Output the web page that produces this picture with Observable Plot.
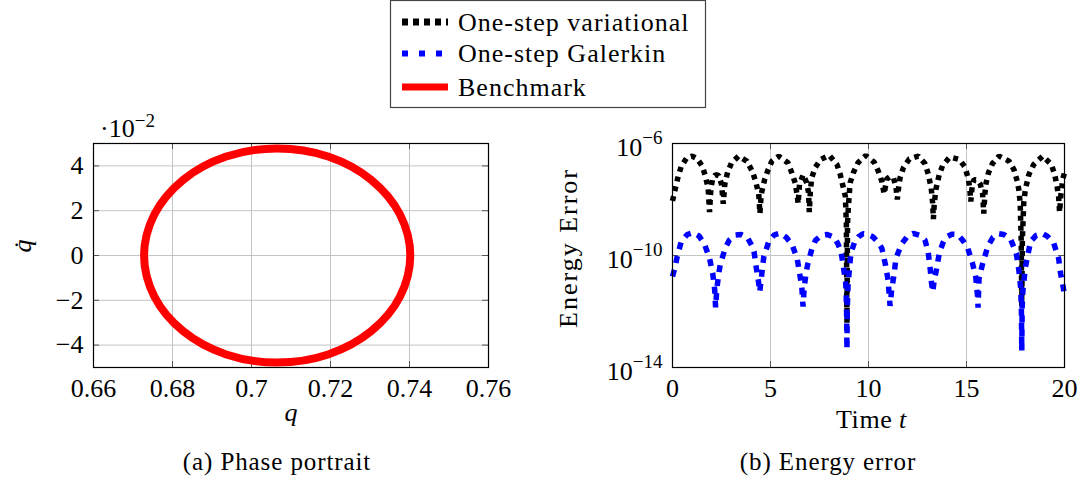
<!DOCTYPE html>
<html><head><meta charset="utf-8">
<script src="https://cdn.jsdelivr.net/npm/d3@7"></script>
<script src="https://cdn.jsdelivr.net/npm/@observablehq/plot@0.6"></script>
<style>
html,body{margin:0;padding:0;background:#fff;}
#root{position:relative;width:1086px;height:484px;overflow:hidden;font-family:"Liberation Serif",serif;}
#root > svg{position:absolute;top:0;}
#root svg text, #root svg tspan{font-family:"Liberation Serif","Times New Roman",serif !important;}
</style></head><body><div id="root"></div>
<script>
// ---------- data ----------
const seriesNames = ["One-step variational", "One-step Galerkin", "Benchmark"];
const seriesColors = ["#000000", "#0000ff", "#ff0000"];

// (a) phase portrait: points around the closed orbit
const phaseQ    = [0.7402, 0.7376, 0.7303, 0.7194, 0.7065, 0.6936, 0.6827, 0.6754, 0.6728, 0.6754, 0.6827, 0.6936, 0.7065, 0.7194, 0.7303, 0.7376];
const phaseQdot = [0, 0.0183, 0.0338, 0.0442, 0.0478, 0.0442, 0.0338, 0.0183, 0, -0.0183, -0.0338, -0.0442, -0.0478, -0.0442, -0.0338, -0.0183];
const qTicks = [0.66, 0.68, 0.70, 0.72, 0.74, 0.76];
const qdotTicks = [-0.04, -0.02, 0, 0.02, 0.04];

// (b) energy error, stored as log10 of the error
const variationalT = [0.00,0.17,0.29,0.45,0.72,1.00,1.25,1.52,1.68,1.82,1.89,1.96,2.05,2.20,2.36,2.50,2.59,2.67,2.81,3.01,3.37,3.79,4.07,4.24,4.40,4.46,4.53,4.70,4.88,5.07,5.42,5.89,6.09,6.26,6.36,6.41,6.48,6.67,6.85,6.94,6.98,7.03,7.10,7.27,7.56,8.00,8.39,8.56,8.70,8.82,8.87,8.90,8.93,8.97,9.06,9.24,9.46,9.86,10.29,10.50,10.68,10.80,10.93,11.10,11.27,11.40,11.47,11.54,11.61,11.78,12.08,12.54,12.88,13.05,13.20,13.27,13.31,13.36,13.45,13.61,13.78,14.15,14.63,14.92,15.10,15.17,15.22,15.30,15.39,15.55,15.70,15.82,15.88,15.94,16.00,16.12,16.32,16.66,17.17,17.42,17.59,17.67,17.74,17.79,17.82,17.85,17.92,18.00,18.18,18.43,18.89,19.33,19.50,19.62,19.70,19.75,19.82,19.92,20.00];
const variationalLogErr = [-8.05,-7.53,-7.17,-6.81,-6.52,-6.45,-6.54,-6.81,-7.17,-7.60,-8.45,-7.60,-7.25,-7.11,-7.15,-7.45,-8.15,-7.45,-7.03,-6.69,-6.45,-6.63,-6.99,-7.35,-7.80,-8.50,-7.80,-7.29,-6.93,-6.63,-6.45,-6.69,-7.05,-7.41,-7.85,-8.15,-7.45,-7.11,-7.41,-7.75,-8.45,-7.75,-7.23,-6.87,-6.57,-6.42,-6.75,-7.11,-7.53,-7.89,-8.85,-12.40,-8.85,-8.30,-7.41,-7.02,-6.69,-6.43,-6.67,-6.99,-7.35,-7.80,-7.27,-7.18,-7.21,-7.55,-8.00,-7.55,-7.23,-6.87,-6.55,-6.45,-6.72,-7.09,-7.60,-8.10,-8.70,-8.10,-7.60,-7.11,-6.79,-6.48,-6.57,-6.84,-7.27,-7.65,-8.07,-7.45,-7.29,-7.30,-7.45,-7.77,-8.50,-7.77,-7.41,-7.05,-6.72,-6.45,-6.63,-6.93,-7.35,-7.65,-8.13,-9.44,-11.80,-9.44,-8.13,-7.65,-7.11,-6.75,-6.45,-6.75,-7.11,-7.53,-7.90,-8.45,-7.80,-7.25,-7.05];

const galerkinT = [0.00,0.12,0.24,0.45,0.75,1.04,1.35,1.63,1.89,2.05,2.15,2.20,2.26,2.36,2.44,2.69,2.90,3.20,3.50,3.82,4.05,4.16,4.28,4.38,4.45,4.52,4.58,4.66,4.92,5.20,5.50,5.80,6.09,6.36,6.50,6.60,6.66,6.72,6.82,6.90,7.12,7.30,7.60,7.90,8.26,8.45,8.60,8.73,8.84,8.88,8.90,8.92,8.96,9.05,9.10,9.30,9.49,9.72,9.92,10.22,10.45,10.68,10.85,11.00,11.10,11.18,11.30,11.40,11.69,12.00,12.28,12.60,12.88,13.05,13.15,13.22,13.28,13.35,13.48,13.61,13.80,13.95,14.25,14.55,14.80,15.05,15.30,15.47,15.56,15.59,15.64,15.75,15.85,16.10,16.35,16.65,16.90,17.25,17.54,17.67,17.76,17.80,17.82,17.84,17.88,18.01,18.27,18.55,18.86,19.15,19.45,19.70,19.80,19.90,20.00];
const galerkinLogErr = [-10.75,-10.45,-10.04,-9.50,-9.25,-9.18,-9.30,-9.59,-10.10,-10.64,-11.20,-11.85,-11.20,-10.64,-10.31,-9.74,-9.45,-9.27,-9.25,-9.36,-9.65,-9.86,-10.46,-10.90,-11.30,-10.90,-10.50,-10.04,-9.48,-9.26,-9.20,-9.35,-9.60,-10.10,-10.70,-11.15,-11.82,-11.15,-10.60,-10.31,-9.74,-9.45,-9.28,-9.25,-9.35,-9.60,-9.86,-10.46,-11.00,-11.84,-13.35,-11.84,-11.00,-10.30,-9.92,-9.50,-9.33,-9.22,-9.24,-9.33,-9.50,-9.74,-10.28,-10.88,-11.80,-11.24,-10.70,-10.10,-9.59,-9.30,-9.21,-9.28,-9.44,-9.90,-10.50,-11.00,-11.30,-10.90,-10.46,-9.92,-9.55,-9.35,-9.24,-9.25,-9.45,-9.71,-10.26,-10.76,-11.42,-11.86,-10.82,-10.50,-10.22,-9.66,-9.35,-9.22,-9.25,-9.42,-9.92,-10.52,-11.12,-11.84,-13.40,-11.84,-11.24,-10.40,-9.50,-9.28,-9.21,-9.33,-9.56,-10.10,-10.64,-11.00,-11.40];
const tTicks = [0, 5, 10, 15, 20];
const errTicks = [1e-14, 1e-10, 1e-6];

// ---------- tables ----------
const phase = phaseQ.map((q, i) => ({q, qdot: phaseQdot[i]}));
const variational = variationalT.map((t, i) => ({t, err: Math.pow(10, variationalLogErr[i])}));
const galerkin = galerkinT.map((t, i) => ({t, err: Math.pow(10, galerkinLogErr[i])}));

const NS = "http://www.w3.org/2000/svg";
const FONT = '"Liberation Serif", "Times New Roman", serif';
const GRID = "#c4c4c4";
const TICK = "#555";
const TL = 6; // inward tick length
const root = document.getElementById("root");
const baseStyle = {fontFamily: FONT, fontSize: "26px", color: "#000", background: "transparent", overflow: "visible"};
const fmtNum = d => (d < 0 ? "\u2212" : "") + String(Math.abs(d));

// ---------- (a) phase portrait ----------
const mT = 143, mB = 117;
const frameH = 484 - mT - mB;
const leftW = 540, lML = 93, lMR = 52;
const lFrameW = leftW - lML - lMR;
const left = Plot.plot({
  width: leftW, height: 484,
  marginLeft: lML, marginRight: lMR, marginTop: mT, marginBottom: mB,
  style: baseStyle,
  x: {domain: [0.66, 0.76], ticks: qTicks, tickFormat: d => String(+d.toFixed(2)), tickSize: 0, tickPadding: 11, label: null},
  y: {domain: [-0.05, 0.05], ticks: qdotTicks, tickFormat: d => fmtNum(Math.round(d * 100)), tickSize: 0, tickPadding: 10, label: null},
  marks: [
    Plot.gridX(qTicks, {stroke: GRID, strokeOpacity: 1}),
    Plot.gridY(qdotTicks, {stroke: GRID, strokeOpacity: 1}),
    Plot.tickX(qTicks, {x: d => d, insetTop: frameH - TL, stroke: TICK}),
    Plot.tickX(qTicks, {x: d => d, insetBottom: frameH - TL, stroke: TICK}),
    Plot.tickY(qdotTicks, {y: d => d, insetRight: lFrameW - TL, stroke: TICK}),
    Plot.tickY(qdotTicks, {y: d => d, insetLeft: lFrameW - TL, stroke: TICK}),
    Plot.line(phase, {x: "q", y: "qdot", curve: "catmull-rom-closed", stroke: seriesColors[2], strokeWidth: 8}),
    Plot.frame({stroke: "#000", strokeWidth: 1.2})
  ]
});
left.style.left = "0px";
root.appendChild(left);

// ---------- (b) energy error ----------
const rightX = 540, rightW = 546, rML = 132, rMR = 22;
const rFrameW = rightW - rML - rMR;
const right = Plot.plot({
  width: rightW, height: 484,
  marginLeft: rML, marginRight: rMR, marginTop: mT, marginBottom: mB,
  style: baseStyle,
  x: {domain: [0, 20], ticks: tTicks, tickFormat: d => String(d), tickSize: 0, tickPadding: 11, label: null},
  y: {type: "log", domain: [1e-14, 1e-6], ticks: errTicks, tickFormat: d => "10^\u2212" + Math.round(-Math.log10(d)), tickSize: 0, tickPadding: 10, label: null},
  marks: [
    Plot.gridX(tTicks, {stroke: GRID, strokeOpacity: 1}),
    Plot.gridY(errTicks, {stroke: GRID, strokeOpacity: 1}),
    Plot.tickX(tTicks, {x: d => d, insetTop: frameH - TL, stroke: TICK}),
    Plot.tickX(tTicks, {x: d => d, insetBottom: frameH - TL, stroke: TICK}),
    Plot.tickY(errTicks, {y: d => d, insetRight: rFrameW - TL, stroke: TICK}),
    Plot.tickY(errTicks, {y: d => d, insetLeft: rFrameW - TL, stroke: TICK}),
    Plot.line(variational, {x: "t", y: "err", stroke: seriesColors[0], strokeWidth: 5.5, strokeDasharray: "5,5", strokeLinecap: "butt", strokeLinejoin: "miter"}),
    Plot.line(galerkin, {x: "t", y: "err", stroke: seriesColors[1], strokeWidth: 5.5, strokeDasharray: "7,7", strokeLinecap: "butt", strokeLinejoin: "miter"}),
    Plot.frame({stroke: "#000", strokeWidth: 1.2})
  ]
});
right.style.left = rightX + "px";
root.appendChild(right);

// superscripts for 10^-n labels
right.querySelectorAll('g[aria-label="y-axis tick label"] text').forEach(t => {
  const s = t.textContent, i = s.indexOf("^");
  if (i < 0) return;
  while (t.firstChild) t.removeChild(t.firstChild);
  const b = document.createElementNS(NS, "tspan"); b.textContent = s.slice(0, i); b.setAttribute("dy", "0.15em");
  const e = document.createElementNS(NS, "tspan"); e.textContent = s.slice(i + 1); e.setAttribute("dy", "-0.6em"); e.setAttribute("font-size", "19px");
  t.append(b, e);
});

// ---------- overlay: labels, captions, legend ----------
const ov = document.createElementNS(NS, "svg");
ov.setAttribute("width", 1086); ov.setAttribute("height", 484);
ov.style.left = "0px";
root.appendChild(ov);
function txt(str, x, y, opt = {}) {
  const t = document.createElementNS(NS, "text");
  t.setAttribute("x", x); t.setAttribute("y", y);
  t.setAttribute("font-size", opt.size || 26);
  t.setAttribute("font-family", FONT);
  t.setAttribute("text-anchor", opt.anchor || "start");
  if (opt.italic) t.setAttribute("font-style", "italic");
  if (opt.ls) t.setAttribute("letter-spacing", opt.ls);
  if (opt.rotate) t.setAttribute("transform", `rotate(-90 ${x} ${y})`);
  t.textContent = str;
  ov.appendChild(t);
  return t;
}
// multiplier label
const mult = txt("\u00b710", 100, 137);
const multE = document.createElementNS(NS, "tspan"); multE.textContent = "\u22122"; multE.setAttribute("dy", "-10"); multE.setAttribute("font-size", "19px");
mult.appendChild(multE);
// axis labels
txt("q", 291, 421, {anchor: "middle", italic: true});
txt("q\u0307", 31, 246, {anchor: "middle", italic: true, rotate: true});
txt("Time", 836, 428, {ls: 0.6});
txt("t", 899, 428, {italic: true});
txt("Energy Error", 577, 248, {anchor: "middle", rotate: true, ls: 2});
// captions
txt("(a) Phase portrait", 277, 470, {anchor: "middle", size: 25, ls: 0.9});
txt("(b) Energy error", 828, 470, {anchor: "middle", size: 25, ls: 0.9});

// legend
const box = document.createElementNS(NS, "rect");
box.setAttribute("x", 390.5); box.setAttribute("y", 0.5); box.setAttribute("width", 315); box.setAttribute("height", 107);
box.setAttribute("fill", "#fff"); box.setAttribute("stroke", "#444"); box.setAttribute("stroke-width", 1.2);
ov.appendChild(box);
const legRows = [
  {y: 22, dash: "6,5", w: 7},
  {y: 53.5, dash: "6,11", w: 6},
  {y: 87, dash: null, w: 7}
];
legRows.forEach((r, i) => {
  const l = document.createElementNS(NS, "line");
  l.setAttribute("x1", 402); l.setAttribute("x2", 448);
  l.setAttribute("y1", r.y); l.setAttribute("y2", r.y);
  l.setAttribute("stroke", seriesColors[i]); l.setAttribute("stroke-width", r.w);
  if (r.dash) l.setAttribute("stroke-dasharray", r.dash);
  ov.appendChild(l);
  txt(seriesNames[i], 458, r.y + 8.5, {ls: 1});
});
</script></body></html>
